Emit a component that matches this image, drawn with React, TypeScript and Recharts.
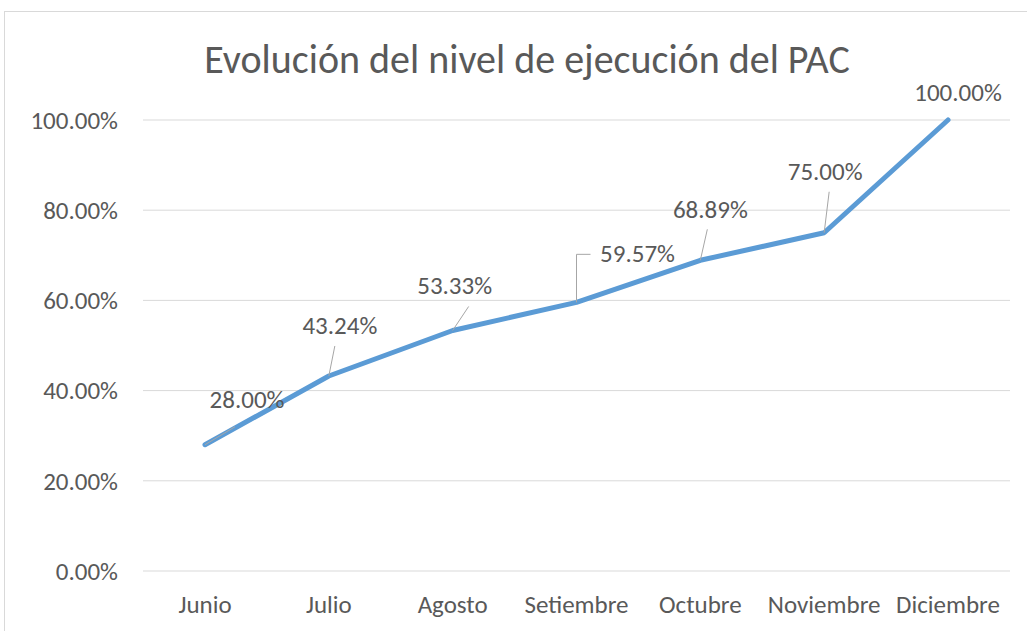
import React from 'react';
import { LineChart, Line, XAxis, YAxis, CartesianGrid, LabelList } from 'recharts';

const months = ['Junio', 'Julio', 'Agosto', 'Setiembre', 'Octubre', 'Noviembre', 'Diciembre'];
const ejecucion = [28.0, 43.24, 53.33, 59.57, 68.89, 75.0, 100.0];
const yTicks = [0, 20, 40, 60, 80, 100];

// where each label sits relative to its point (Excel moved them by hand)
const labelOffsets = [
  [42, -45],
  [11, -50],
  [2, -45],
  [61, -49],
  [10, -51],
  [1, -61],
  [10, -28],
];
// leader line end relative to point, null = no leader
const leaders: (number[] | null)[] = [
  [30, -18],
  [6, -30],
  [16, -24],
  null,
  [7, -31],
  [5, -41],
  null,
];

const data = months.map((m, i) => ({ name: m, value: ejecucion[i] }));

const FONT = "Carlito, Calibri, Lato, sans-serif";
const TEXT = '#595959';

function PointLabel(props: any) {
  const { x, y, index, value } = props;
  const [dx, dy] = labelOffsets[index];
  const lead = leaders[index];
  return (
    <g>
      {lead && (
        <line x1={x} y1={y} x2={x + lead[0]} y2={y + lead[1]} stroke="#a6a6a6" strokeWidth={1} />
      )}
      {index === 3 && (
        <polyline
          points={`${x},${y} ${x},${y + dy + 1} ${x + 14},${y + dy + 1}`}
          fill="none"
          stroke="#a6a6a6"
          strokeWidth={1}
        />
      )}
      <text
        x={x + dx}
        y={y + dy}
        textAnchor="middle"
        dominantBaseline="central"
        fill={TEXT}
        fontSize={25}
        fontFamily={FONT}
      >
        {Number(value).toFixed(2)}%
      </text>
    </g>
  );
}

export default function App() {
  return (
    <div style={{ position: 'absolute', left: 0, top: 0, width: 1027, height: 631, background: '#fff', overflow: 'hidden' }}>
      <div
        style={{
          position: 'absolute',
          left: 4,
          top: 11,
          width: 1060,
          height: 660,
          border: '1px solid #d9d9d9',
        }}
      />
      <div
        style={{
          position: 'absolute',
          left: 0,
          width: 1054,
          top: 36,
          textAlign: 'center',
          fontFamily: FONT,
          fontSize: 40,
          fontWeight: 300,
          color: TEXT,
          lineHeight: '48px',
        }}
      >
        Evolución del nivel de ejecución del PAC
      </div>
      <div style={{ position: 'absolute', left: 0, top: 0 }}>
        <LineChart width={1027} height={631} data={data} margin={{ top: 120, right: 17, bottom: 0, left: 0 }}>
          <CartesianGrid vertical={false} stroke="#d9d9d9" strokeWidth={1} />
          <XAxis
            dataKey="name"
            height={60}
            axisLine={false}
            tickLine={false}
            padding={{ left: 62, right: 62 }}
            tick={{ fill: TEXT, fontSize: 25, fontFamily: FONT }}
            tickMargin={18}
            interval={0}
          />
          <YAxis
            width={143}
            domain={[0, 100]}
            ticks={yTicks}
            axisLine={false}
            tickLine={false}
            tickMargin={19}
            tickFormatter={(v: number) => `${v.toFixed(2)}%`}
            tick={{ fill: TEXT, fontSize: 25, fontFamily: FONT }}
          />
          <Line
            type="linear"
            dataKey="value"
            stroke="#5b9bd5"
            strokeWidth={5}
            strokeLinecap="round"
            strokeLinejoin="round"
            dot={false}
            isAnimationActive={false}
          >
            <LabelList dataKey="value" content={<PointLabel />} />
          </Line>
        </LineChart>
      </div>
    </div>
  );
}
